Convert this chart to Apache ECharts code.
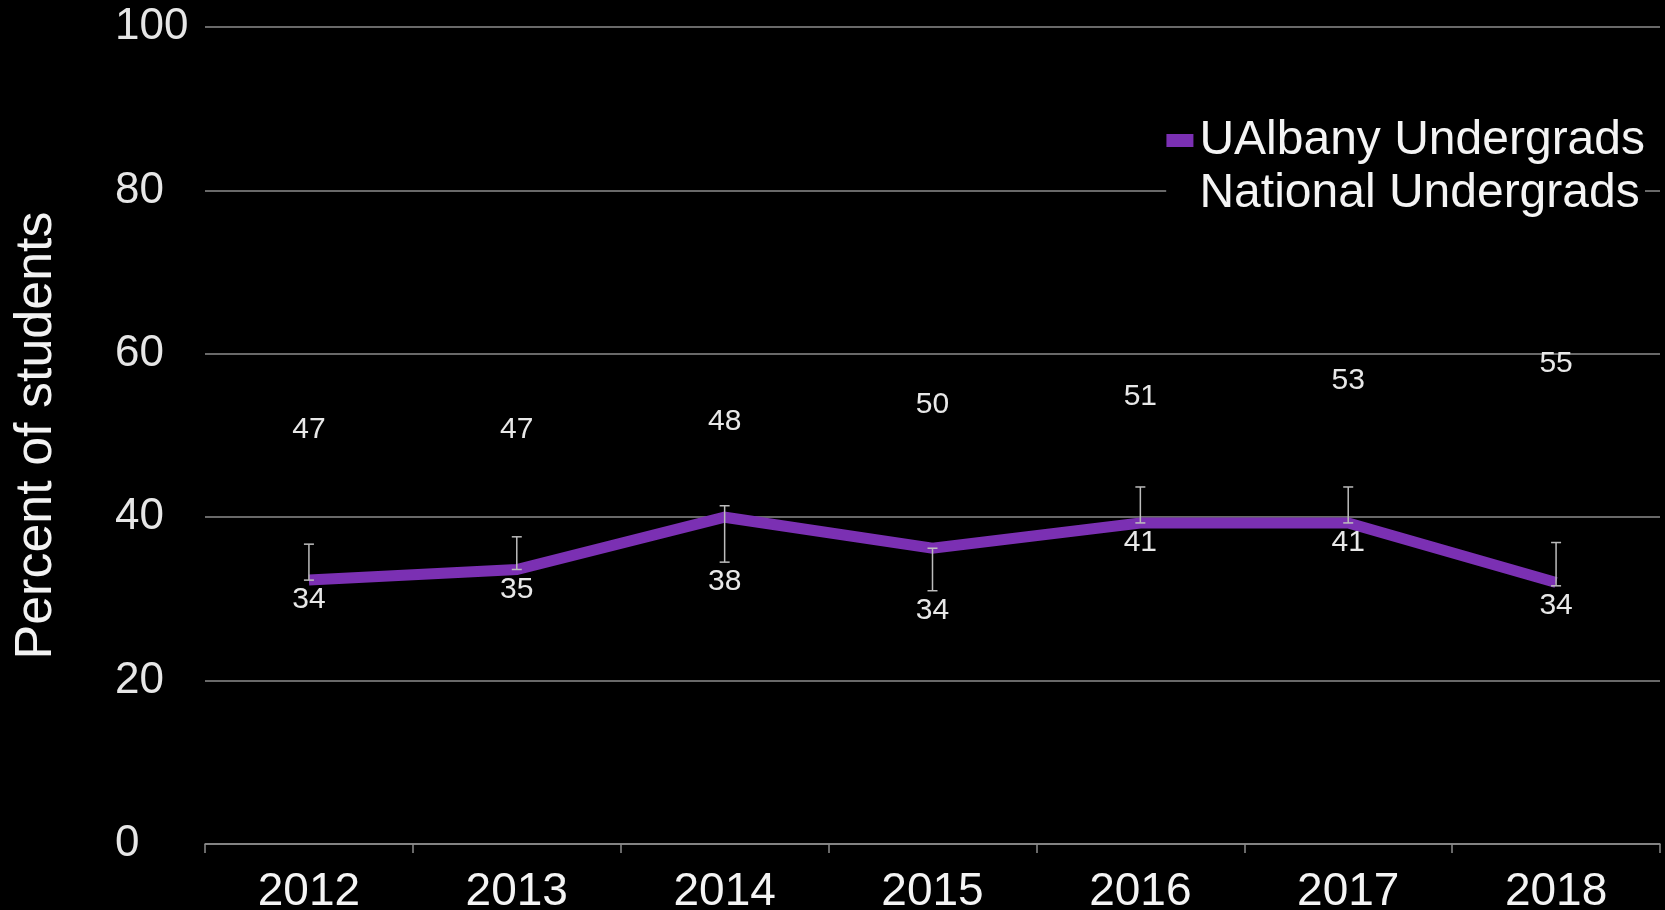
<!DOCTYPE html>
<html>
<head>
<meta charset="utf-8">
<style>
html,body{margin:0;padding:0;background:#000;}
#chart{width:1665px;height:910px;}
</style>
<script src="https://cdn.jsdelivr.net/npm/echarts@6/dist/echarts.min.js"></script>
</head>
<body>
<div id="chart"></div>
<script>
var years = ['2012','2013','2014','2015','2016','2017','2018'];
var ualbanyValues = [32.3, 33.6, 40.0, 36.2, 39.3, 39.3, 32.0];
var ualbanyLabels = [34, 35, 38, 34, 41, 41, 34];
var ualbanyErrLow = [32.3, 33.6, 34.5, 31.0, 39.3, 39.3, 31.6];
var ualbanyErrHigh = [36.7, 37.6, 41.4, 36.2, 43.7, 43.7, 36.9];
var nationalValues = [47, 47, 48, 50, 51, 53, 55];
var yTicks = [0, 20, 40, 60, 80, 100];

var purple = '#7B30B3';
var FONT = 'Liberation Sans, Arial, sans-serif';

var errData = years.map(function (y, i) {
  return [i, ualbanyErrLow[i], ualbanyErrHigh[i], ualbanyValues[i]];
});

var chart = echarts.init(document.getElementById('chart'));
chart.setOption({
  backgroundColor: '#000',
  animation: false,
  grid: { left: 205, right: 5, top: 27, bottom: 66, containLabel: false, outerBoundsMode: 'none' },
  legend: {
    orient: 'vertical',
    right: 20,
    top: 114,
    padding: 0,
    itemGap: 0,
    icon: 'rect',
    itemWidth: 27,
    itemHeight: 13,
    backgroundColor: '#000',
    textStyle: { color: '#f4f4f4', fontSize: 48, fontFamily: FONT, lineHeight: 53, padding: [0, 0, 0, 1] },
    data: [
      { name: 'UAlbany Undergrads', itemStyle: { color: purple } },
      { name: 'National Undergrads', itemStyle: { color: '#000' } }
    ]
  },
  xAxis: {
    type: 'category',
    data: years,
    boundaryGap: true,
    axisLine: { show: true, lineStyle: { color: '#8c8c8c', width: 1.5 } },
    axisTick: { show: true, length: 9, alignWithLabel: false, lineStyle: { color: '#8c8c8c', width: 1.5 } },
    axisLabel: { color: '#f4f4f4', fontSize: 46, fontFamily: FONT, margin: 25 },
    splitLine: { show: false }
  },
  yAxis: {
    type: 'value',
    min: 0,
    max: 100,
    interval: 20,
    name: 'Percent of students',
    nameLocation: 'middle',
    nameGap: 142,
    nameRotate: 90,
    nameTextStyle: { color: '#f2f2f2', fontSize: 52, fontFamily: FONT },
    axisLine: { show: false },
    axisTick: { show: false },
    axisLabel: {
      color: '#e6e6e6', fontSize: 44, fontFamily: FONT, align: 'left', margin: 90,
      formatter: function (v) { return yTicks.indexOf(v) >= 0 ? String(v) : ''; }
    },
    splitLine: { show: true, lineStyle: { color: '#8c8c8c', width: 1.5 } }
  },
  series: [
    {
      name: 'UAlbany Undergrads',
      type: 'line',
      data: ualbanyValues,
      symbol: 'none',
      lineStyle: { color: purple, width: 11, cap: 'butt', join: 'miter' },
      itemStyle: { color: purple },
      z: 3
    },
    {
      name: 'National Undergrads',
      type: 'line',
      data: nationalValues,
      symbol: 'circle',
      symbolSize: 1,
      itemStyle: { color: '#000' },
      lineStyle: { color: '#000', width: 2 },
      label: {
        show: true, position: 'top', distance: 15,
        color: '#e8e8e8', fontSize: 30, fontFamily: FONT
      },
      z: 2
    },
    {
      name: 'errors',
      type: 'custom',
      data: errData,
      encode: { x: 0, y: [1, 2] },
      z: 5,
      renderItem: function (params, api) {
        var i = api.value(0);
        var lo = api.coord([i, api.value(1)]);
        var hi = api.coord([i, api.value(2)]);
        var mid = api.coord([i, api.value(3)]);
        var cap = 5;
        var st = { stroke: '#bdbdbd', lineWidth: 1.5 };
        var labelY = Math.max(lo[1] + 20, mid[1] + 19);
        return {
          type: 'group',
          children: [
            { type: 'line', shape: { x1: hi[0], y1: hi[1], x2: lo[0], y2: lo[1] }, style: st },
            { type: 'line', shape: { x1: hi[0] - cap, y1: hi[1], x2: hi[0] + cap, y2: hi[1] }, style: st },
            { type: 'line', shape: { x1: lo[0] - cap, y1: lo[1], x2: lo[0] + cap, y2: lo[1] }, style: st },
            {
              type: 'text', x: mid[0], y: labelY,
              style: {
                text: String(ualbanyLabels[params.dataIndex]),
                fill: '#e8e8e8', font: '30px ' + FONT,
                align: 'center', verticalAlign: 'middle'
              }
            }
          ]
        };
      }
    }
  ]
});
</script>
</body>
</html>
